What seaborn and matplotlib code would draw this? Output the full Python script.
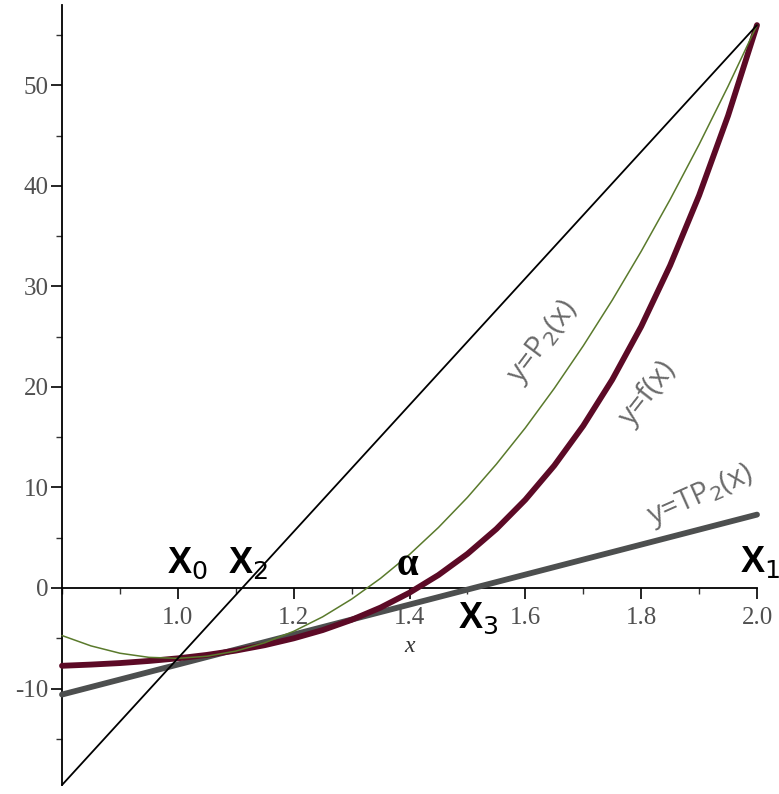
import numpy as np
import matplotlib as mpl
_ = mpl.use('Agg')
import matplotlib.pyplot as plt
import seaborn as sns
import pandas as pd

# points, f(x) and the quadratic P2(x)
x_pts = [0.80, 0.85, 0.90, 0.95, 1.00, 1.05, 1.10, 1.15, 1.20, 1.25, 1.30, 1.35, 1.40,
         1.45, 1.50, 1.55, 1.60, 1.65, 1.70, 1.75, 1.80, 1.85, 1.90, 1.95, 2.00]
f_vals = [-7.74, -7.62, -7.47, -7.26, -7.00, -6.66, -6.23, -5.69, -5.01, -4.19, -3.17, -1.95, -0.47,
          1.29, 3.39, 5.87, 8.78, 12.18, 16.14, 20.72, 26.01, 32.09, 39.05, 46.98, 56.00]
p2_vals = [-4.73, -5.76, -6.49, -6.90, -7.00, -6.79, -6.28, -5.45, -4.31, -2.87, -1.11, 0.96, 3.33,
           6.02, 9.01, 12.32, 15.93, 19.86, 24.09, 28.63, 33.49, 38.65, 44.12, 49.91, 56.00]

# the two straight lines (secant through X0, X1 and tangent TP2)
line_x = [0.8, 2.0]
sec_vals = [-19.6, 56.0]
tp2_vals = [-10.6, 7.3]

x_major = [1.0, 1.2, 1.4, 1.6, 1.8, 2.0]
x_labels = ['1.0', '1.2', '1.4', '1.6', '1.8', '2.0']
x_minor = [0.8, 0.9, 1.1, 1.3, 1.5, 1.7, 1.9]
y_major = [-10, 0, 10, 20, 30, 40, 50]
y_labels = ['-10', '0', '10', '20', '30', '40', '50']
y_minor = [-15, -5, 5, 15, 25, 35, 45, 55]

sns.set_style('ticks')
plt.rcParams['font.family'] = ['Liberation Serif', 'DejaVu Serif']

fig = plt.figure(figsize=(7.79, 7.94), dpi=100)
ax = fig.add_axes([62 / 779, 9 / 794, 695 / 779, 780 / 794])

curves = pd.DataFrame({'x': x_pts, 'f': f_vals, 'p2': p2_vals})
lines = pd.DataFrame({'x': line_x, 'sec': sec_vals, 'tp2': tp2_vals})

sns.lineplot(data=lines, x='x', y='tp2', color='#4d4f4f', lw=4.2, ax=ax, clip_on=False)
sns.lineplot(data=curves, x='x', y='f', color='#5c0a26', lw=4.2, ax=ax, clip_on=False)
sns.lineplot(data=curves, x='x', y='p2', color='#5a7a2c', lw=1.1, ax=ax, clip_on=False)
sns.lineplot(data=lines, x='x', y='sec', color='black', lw=1.3, ax=ax, clip_on=False)

ax.set_xlim(0.8, 2.0)
ax.set_ylim(-19.6, 58)

for s in ['top', 'right']:
    ax.spines[s].set_visible(False)
ax.spines['left'].set_position(('data', 0.8))
ax.spines['bottom'].set_position(('data', 0))
for s in ['left', 'bottom']:
    ax.spines[s].set_color('black')
    ax.spines[s].set_linewidth(1.3)
    ax.spines[s].set_zorder(1)

ax.set_xticks(x_major)
ax.set_xticklabels(x_labels)
ax.set_xticks(x_minor, minor=True)
ax.set_yticks(y_major)
ax.set_yticklabels(y_labels)
ax.set_yticks(y_minor, minor=True)
ax.tick_params(which='major', length=8, width=1.2, color='black', labelcolor='#505050', labelsize=18)
ax.tick_params(which='minor', length=4, width=1.0, color='#333333')
ax.tick_params(axis='x', which='major', pad=6)
ax.tick_params(axis='y', which='major', pad=1.5)

ax.set_ylabel('')
ax.set_xlabel('x', style='italic', fontsize=17, color='#333333')
ax.xaxis.set_label_coords(0.5, (785 - 636) / 780)

# point labels
big = dict(fontfamily='Liberation Sans', fontweight='bold', fontsize=26,
           color='black', ha='left', va='baseline')
ax.text(0.981, 1.5, r'X$_0$', **big)
ax.text(1.087, 1.5, r'X$_2$', **big)
ax.text(1.971, 1.6, r'X$_1$', **big)
ax.text(1.484, -4.0, r'X$_3$', **big)
ax.text(1.378, 1.3, 'α', fontfamily='Liberation Serif', fontweight='bold',
        fontsize=28, color='black', ha='left', va='baseline')

# curve labels
lab = dict(fontfamily='Open Sans', fontsize=21, color='#6a6a6a',
           ha='center', va='center', rotation_mode='anchor')
ax.text(1.630, 24.5, r'y=P$_2$(x)', rotation=53, **lab)
ax.text(1.812, 19.4, 'y=f(x)', rotation=52, **lab)
ax.text(1.903, 9.15, r'y=TP$_2$(x)', rotation=24, **lab)

plt.savefig('out.png', dpi=100)
